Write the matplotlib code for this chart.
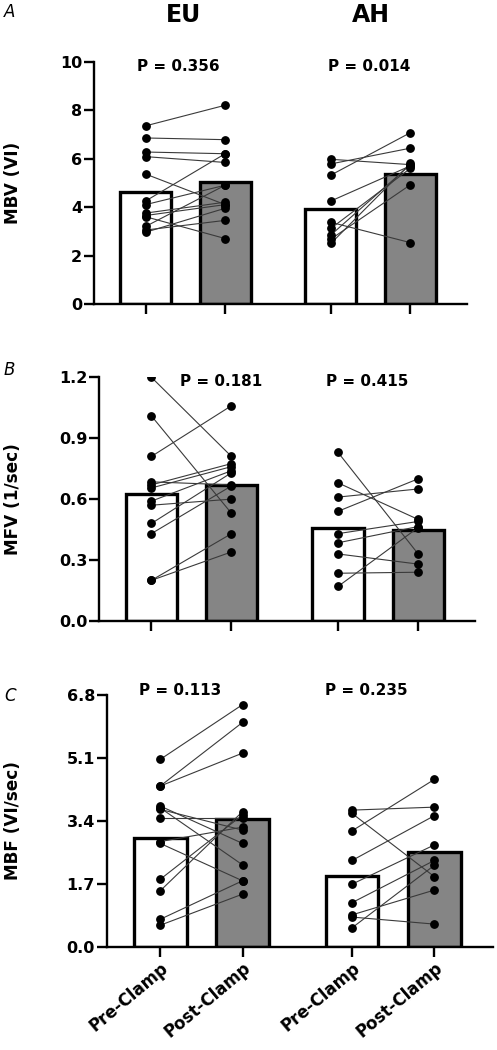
import numpy as np
import matplotlib.pyplot as plt

plt.rcParams['font.family'] = ['DejaVu Sans']

# x positions: EU pre, EU post, AH pre, AH post
xpos = np.array([0, 1, 2.33, 3.33])
bar_col = ['white', '#858585', 'white', '#858585']
xlabels = ['Pre-Clamp', 'Post-Clamp', 'Pre-Clamp', 'Post-Clamp']

# panel A - MBV
mbv_bars = [4.64, 5.02, 3.92, 5.38]
mbv_eu_pre = [7.35, 6.85, 6.27, 6.08, 5.36, 4.25, 4.1, 3.75, 3.65, 3.6, 3.2, 3.05, 2.96]
mbv_eu_post = [8.2, 6.78, 6.2, 5.84, 4.1, 6.2, 4.9, 4.2, 4.1, 2.7, 4.9, 3.45, 3.95]
mbv_ah_pre = [5.97, 5.78, 5.32, 4.25, 3.37, 3.12, 2.85, 2.68, 2.5]
mbv_ah_post = [5.75, 6.43, 7.07, 5.7, 2.53, 5.6, 5.75, 4.92, 5.8]

# panel B - MFV
mfv_bars = [0.625, 0.67, 0.456, 0.448]
mfv_eu_pre = [1.20, 1.01, 0.81, 0.685, 0.67, 0.655, 0.59, 0.57, 0.48, 0.43, 0.20, 0.20]
mfv_eu_post = [0.81, 0.53, 1.06, 0.67, 0.775, 0.76, 0.74, 0.60, 0.73, 0.665, 0.43, 0.34]
mfv_ah_pre = [0.83, 0.68, 0.61, 0.54, 0.43, 0.385, 0.33, 0.235, 0.17]
mfv_ah_post = [0.33, 0.50, 0.65, 0.70, 0.49, 0.465, 0.28, 0.24, 0.46]

# panel C - MBF
mbf_bars = [2.93, 3.45, 1.92, 2.55]
mbf_eu_pre = [5.06, 4.34, 4.34, 3.80, 3.75, 3.71, 3.49, 2.84, 2.79, 1.82, 1.51, 0.74, 0.58]
mbf_eu_post = [6.54, 6.06, 5.23, 2.79, 2.21, 3.15, 3.49, 3.23, 1.78, 3.56, 3.65, 1.78, 1.42]
mbf_ah_pre = [3.69, 3.60, 3.13, 2.33, 1.69, 1.19, 0.86, 0.80, 0.51]
mbf_ah_post = [3.77, 1.89, 4.52, 3.54, 2.75, 2.33, 1.53, 0.61, 2.20]

fig = plt.figure(figsize=(4.97, 10.5), dpi=100)

def panel(rect, bars, eu_pre, eu_post, ah_pre, ah_post, ymax, yticks, ylabel,
          ylab_x, pvals, ptxt_x, ptxt_y, letter, letter_y, show_x):
    ax = fig.add_axes(rect)
    ax.bar(xpos, bars, width=0.64, color=bar_col, edgecolor='black',
           linewidth=2.4, zorder=1)
    for pre, post in zip(eu_pre, eu_post):
        ax.plot([xpos[0], xpos[1]], [pre, post], '-', color='#3a3a3a', lw=0.8, zorder=2)
    for pre, post in zip(ah_pre, ah_post):
        ax.plot([xpos[2], xpos[3]], [pre, post], '-', color='#3a3a3a', lw=0.8, zorder=2)
    for i, vals in enumerate([eu_pre, eu_post, ah_pre, ah_post]):
        ax.plot([xpos[i]] * len(vals), vals, 'o', color='black', ms=5.3, zorder=3)
    ax.set_xlim(-0.65, 4.04)
    ax.set_ylim(0, ymax)
    ax.set_yticks(yticks)
    ax.set_yticklabels([('%g' % t) if ymax > 9 else '%.1f' % t for t in yticks],
                       fontsize=11.5, fontweight='bold')
    ax.set_xticks(xpos)
    if show_x:
        ax.set_xticklabels(xlabels, rotation=40, ha='right', rotation_mode='anchor',
                           fontsize=12, fontweight='bold')
    else:
        ax.set_xticklabels([])
    for s in ['top', 'right']:
        ax.spines[s].set_visible(False)
    for s in ['left', 'bottom']:
        ax.spines[s].set_linewidth(1.7)
    ax.tick_params(axis='both', length=7, width=1.7, pad=1.5)
    ax.set_ylabel(ylabel, fontsize=12.2, fontweight='bold')
    ax.yaxis.set_label_coords(ylab_x, 0.5)
    for t, x in zip(pvals, ptxt_x):
        ax.text(x, ptxt_y, t, ha='center', va='center', fontsize=11,
                fontweight='bold')
    fig.text(4 / 497, 1 - letter_y / 1050, letter, fontsize=12, style='italic',
             ha='left', va='center')
    return ax

panel([0.189, 0.7105, 0.7505, 0.2308], mbv_bars, mbv_eu_pre, mbv_eu_post,
      mbv_ah_pre, mbv_ah_post, 10, [0, 2, 4, 6, 8, 10], 'MBV (VI)', -0.193,
      ['P = 0.356', 'P = 0.014'], [0.405, 2.81], 9.78, 'A', 12, False)
panel([0.1998, 0.4086, 0.756, 0.2321], mfv_bars, mfv_eu_pre, mfv_eu_post,
      mfv_ah_pre, mfv_ah_post, 1.2, [0, 0.3, 0.6, 0.9, 1.2], 'MFV (1/sec)', -0.206,
      ['P = 0.181', 'P = 0.415'], [0.875, 2.69], 1.178, 'B', 370, False)
panel([0.2147, 0.0984, 0.777, 0.2397], mbf_bars, mbf_eu_pre, mbf_eu_post,
      mbf_ah_pre, mbf_ah_post, 6.8, [0, 1.7, 3.4, 5.1, 6.8], 'MBF (VI/sec)', -0.219,
      ['P = 0.113', 'P = 0.235'], [0.24, 2.5], 6.92, 'C', 696, True)

fig.text(184 / 497, 1 - 15 / 1050, 'EU', fontsize=17, fontweight='bold',
         ha='center', va='center')
fig.text(371 / 497, 1 - 15 / 1050, 'AH', fontsize=17, fontweight='bold',
         ha='center', va='center')

fig.savefig('out.png', dpi=100)
